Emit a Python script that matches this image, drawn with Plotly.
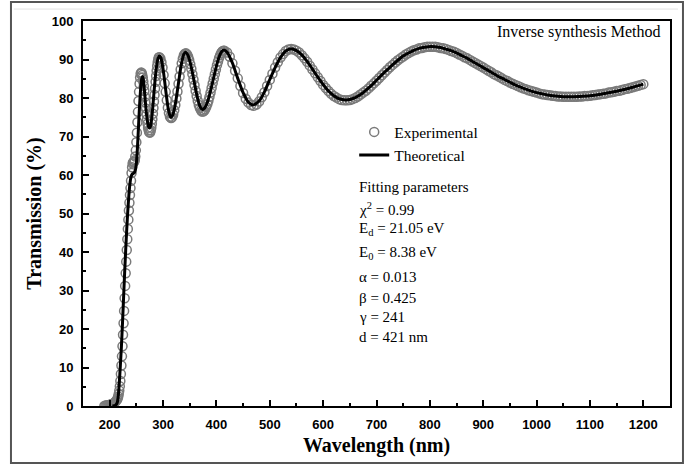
import plotly.graph_objects as go

# ---------------- data ----------------
exp_wavelength = [
    190, 192, 194, 196, 198, 200, 202, 204, 206, 208, 210, 212, 214,
    215, 216, 217, 218, 219, 220, 221, 222, 223, 224, 225, 226, 227, 228, 229,
    230, 231, 232, 233, 234, 235, 236, 237, 238, 239, 240, 241, 242, 243, 244,
    245, 246, 247, 248, 249, 250, 251, 252, 253, 254, 255, 256, 257, 258, 259,
    260, 261, 262, 263, 264, 265, 266, 267, 268, 269, 270, 271, 272, 273, 274,
    275, 276, 277, 278, 279, 280, 281, 282, 283, 284, 285, 286, 287, 288, 289,
    290, 291, 292, 293, 295, 297, 299, 301, 303, 305, 307, 309, 311, 313, 315,
    317, 319, 321, 323, 325, 327, 329, 331, 333, 335, 337, 339, 341, 343, 345,
    347, 349, 351, 353, 355, 357, 359, 361, 363, 365, 367, 369, 371, 373, 375,
    377, 379, 381, 383, 385, 387, 389, 391, 393, 395, 397, 399, 401, 403, 405,
    407, 409, 411, 413,
    415, 420, 425, 430, 435, 440, 445, 450, 455, 460, 465, 470, 475, 480, 485,
    490, 495, 500, 505, 510, 515, 520, 525, 530, 535, 540, 545, 550, 555, 560,
    565, 570, 575, 580, 585, 590, 595, 600, 605, 610, 615, 620, 625, 630, 635,
    640, 645, 650, 655, 660, 665, 670, 675, 680, 685, 690, 695, 700, 705, 710,
    715, 720, 725, 730, 735, 740, 745, 750, 755, 760, 765, 770, 775, 780, 785,
    790, 795, 800, 805, 810, 815, 820, 825, 830, 835, 840, 845, 850, 855, 860,
    865, 870, 875, 880, 885, 890, 895, 900, 905, 910, 915, 920, 925, 930, 935,
    940, 945, 950, 955, 960, 965, 970, 975, 980, 985, 990, 995, 1000, 1005, 1010,
    1015, 1020, 1025, 1030, 1035, 1040, 1045, 1050, 1055, 1060, 1065, 1070, 1075, 1080, 1085,
    1090, 1095, 1100, 1105, 1110, 1115, 1120, 1125, 1130, 1135, 1140, 1145, 1150, 1155, 1160,
    1165, 1170, 1175, 1180, 1185, 1190, 1195, 1200,
]
exp_transmission = [
    0.0, 0.1, 0.1, 0.2, 0.2, 0.3, 0.4, 0.5, 0.6, 0.8, 1.0, 1.3, 1.7,
    2.0, 2.5, 3.1, 4.0, 5.1, 6.5, 8.3, 10.5, 12.9, 15.5, 18.5, 21.5, 24.7, 28.0, 31.2,
    34.5, 37.5, 40.5, 43.3, 46.0, 48.4, 50.8, 52.8, 54.8, 56.6, 58.5, 60.5, 62.0, 63.0, 63.3,
    63.4, 63.5, 63.8, 64.8, 66.4, 68.5, 71.0, 73.7, 76.4, 79.2, 81.6, 83.7, 85.3, 86.3, 86.6,
    86.5, 86.0, 85.3, 84.3, 83.1, 81.8, 80.3, 78.8, 77.3, 75.8, 74.5, 73.3, 72.3, 71.6, 71.2,
    71.0, 71.1, 71.6, 72.3, 73.3, 74.5, 75.9, 77.4, 79.1, 80.8, 82.5, 84.2, 85.7, 87.1, 88.3,
    89.3, 90.0, 90.5, 90.6, 90.3, 89.3, 87.9, 86.0, 83.8, 81.6, 79.4, 77.5, 76.1, 75.1, 74.8,
    75.0, 75.7, 76.8, 78.2, 79.9, 81.7, 83.7, 85.6, 87.4, 89.0, 90.2, 91.1, 91.5, 91.6, 91.3,
    90.7, 89.9, 88.8, 87.6, 86.2, 84.8, 83.3, 81.9, 80.5, 79.3, 78.2, 77.4, 76.8, 76.5, 76.5,
    76.7, 77.1, 77.7, 78.4, 79.3, 80.3, 81.4, 82.6, 83.8, 85.0, 86.2, 87.4, 88.5, 89.5, 90.4,
    91.1, 91.7, 92.1, 92.3,
    92.3, 91.8, 90.7, 89.0, 87.1, 85.1, 83.1, 81.3, 79.8, 78.8, 78.2, 78.0, 78.3, 79.1, 80.2,
    81.5, 83.1, 84.7, 86.3, 87.9, 89.3, 90.5, 91.4, 92.2, 92.6, 92.7, 92.6, 92.3, 91.8, 91.1,
    90.3, 89.4, 88.4, 87.4, 86.4, 85.4, 84.4, 83.4, 82.6, 81.8, 81.1, 80.5, 80.1, 79.7, 79.5,
    79.4, 79.4, 79.5, 79.7, 80.0, 80.4, 80.9, 81.4, 81.9, 82.5, 83.2, 83.8, 84.5, 85.2, 85.9,
    86.6, 87.3, 88.0, 88.6, 89.2, 89.8, 90.3, 90.8, 91.3, 91.7, 92.1, 92.4, 92.6, 92.9, 93.0,
    93.2, 93.3, 93.3, 93.3, 93.3, 93.2, 93.0, 92.9, 92.7, 92.5, 92.2, 92.0, 91.7, 91.3, 91.0,
    90.6, 90.3, 89.9, 89.5, 89.1, 88.7, 88.3, 87.9, 87.5, 87.1, 86.7, 86.2, 85.9, 85.5, 85.1,
    84.7, 84.4, 84.0, 83.7, 83.4, 83.1, 82.8, 82.5, 82.3, 82.0, 81.8, 81.6, 81.4, 81.2, 81.0,
    80.9, 80.8, 80.7, 80.6, 80.5, 80.4, 80.4, 80.3, 80.3, 80.3, 80.3, 80.3, 80.3, 80.4, 80.4,
    80.5, 80.5, 80.6, 80.7, 80.8, 80.9, 81.0, 81.1, 81.2, 81.4, 81.5, 81.6, 81.8, 81.9, 82.1,
    82.3, 82.4, 82.6, 82.8, 83.0, 83.2, 83.4, 83.6,
]

theo_wavelength = [
    205, 210, 214, 216, 218, 220, 222, 224, 226, 228, 230, 232, 234, 236, 238,
    240, 242, 244, 246, 248, 250, 252, 254, 256, 258, 260, 261.5, 263, 265, 267,
    269, 271, 273, 275, 277, 279, 281, 283, 285, 287, 289, 291, 293.5, 296, 298,
    300, 302, 304, 306, 308, 310, 312, 314, 315, 318, 321, 324, 327, 330, 333,
    336, 339, 342, 346, 350, 354, 358, 362, 366, 370, 374, 378, 382, 386, 390,
    394, 398, 402, 406, 410, 414, 420, 430, 440, 450, 460, 469, 480, 490, 500,
    510, 520, 530, 540, 550, 560, 570, 580, 590, 600, 610, 620, 630, 642, 650,
    660, 670, 680, 690, 700, 710, 720, 730, 740, 750, 760, 770, 780, 790, 802,
    810, 820, 830, 840, 850, 860, 870, 880, 890, 900, 910, 920, 930, 940, 950,
    960, 970, 980, 990, 1000, 1010, 1020, 1030, 1040, 1050, 1060, 1080, 1100, 1120, 1140,
    1160, 1180, 1200,
]
theo_transmission = [
    0.0, 0.1, 0.8, 2.5, 6.0, 10.5, 15.5, 21.5, 28.0, 34.5, 40.5, 46.0, 50.8, 54.8, 57.8,
    59.5, 60.2, 60.4, 60.6, 61.2, 63.0, 67.0, 72.5, 78.0, 82.3, 84.9, 85.6, 84.8, 82.2, 78.8,
    75.8, 73.7, 72.5, 72.2, 72.9, 75.0, 78.0, 81.4, 84.6, 87.3, 89.3, 90.5, 90.9, 90.4, 89.2,
    87.6, 85.5, 83.2, 80.9, 78.8, 77.0, 75.8, 75.1, 75.0, 75.5, 77.0, 79.2, 82.0, 84.9, 87.7,
    89.9, 91.4, 91.9, 91.3, 89.7, 87.3, 84.5, 81.6, 79.2, 77.6, 77.0, 77.4, 78.5, 80.2, 82.4,
    84.8, 87.1, 89.3, 91.0, 92.1, 92.5, 91.9, 89.1, 85.1, 81.4, 78.9, 78.2, 79.2, 81.6, 84.8,
    87.9, 90.5, 92.2, 92.8, 92.3, 91.2, 89.5, 87.5, 85.4, 83.5, 81.8, 80.6, 79.8, 79.5, 79.6,
    80.1, 80.9, 82.0, 83.2, 84.6, 86.0, 87.3, 88.6, 89.8, 90.9, 91.7, 92.4, 92.9, 93.2, 93.4,
    93.3, 93.1, 92.7, 92.3, 91.7, 91.0, 90.3, 89.5, 88.7, 87.9, 87.1, 86.3, 85.5, 84.8, 84.1,
    83.4, 82.8, 82.3, 81.8, 81.4, 81.1, 80.8, 80.6, 80.45, 80.35, 80.3, 80.4, 80.6, 81.0, 81.5,
    82.1, 82.8, 83.6,
]

x_ticks = [200, 300, 400, 500, 600, 700, 800, 900, 1000, 1100, 1200]
y_ticks = [0, 10, 20, 30, 40, 50, 60, 70, 80, 90, 100]

fit_lines = [
    "Fitting parameters",
    "χ<sup>2</sup> = 0.99",
    "E<sub>d</sub> = 21.05 eV",
    "E<sub>0</sub> = 8.38 eV",
    "α = 0.013",
    "β = 0.425",
    "γ = 241",
    "d = 421 nm",
]

assert len(exp_wavelength) == len(exp_transmission), (len(exp_wavelength), len(exp_transmission))
assert len(theo_wavelength) == len(theo_transmission), (len(theo_wavelength), len(theo_transmission))

SERIF = "Liberation Serif, Times New Roman, serif"
SANS = "Liberation Sans, Arial, sans-serif"

fig = go.Figure()
fig.add_trace(go.Scatter(
    x=exp_wavelength, y=exp_transmission, mode="markers", name="Experimental",
    marker=dict(symbol="circle-open", size=9, color="#7a7a7a", line=dict(width=1.5)),
))
fig.add_trace(go.Scatter(
    x=theo_wavelength, y=theo_transmission, mode="lines", name="Theoretical",
    line=dict(color="black", width=3, shape="spline", smoothing=0.6),
))

axis_common = dict(
    showline=True, linecolor="black", linewidth=2, mirror=True,
    ticks="inside", ticklen=6, tickwidth=1.5, tickcolor="black",
    showgrid=False, zeroline=False,
    tickfont=dict(family=SANS, size=13, color="black", weight="bold"),
    ticklabelstandoff=5,
)
fig.update_xaxes(
    range=[150, 1250], tickvals=x_ticks,
    minor=dict(ticks="inside", ticklen=3, tickwidth=1.5, tickcolor="black", dtick=50, tick0=150, showgrid=False),
    title=dict(text="Wavelength (nm)", font=dict(family=SERIF, size=20, color="black", weight="bold"), standoff=7),
    **axis_common,
)
fig.update_yaxes(
    range=[0, 100], tickvals=y_ticks,
    minor=dict(ticks="inside", ticklen=3, tickwidth=1.5, tickcolor="black", dtick=5, tick0=0, showgrid=False),
    title=dict(text="Transmission (%)", font=dict(family=SERIF, size=20, color="black", weight="bold"), standoff=5),
    **axis_common,
)

annotations = [dict(
    text="Inverse synthesis Method", xref="paper", yref="paper", x=0.988, y=0.972,
    xanchor="right", yanchor="middle", showarrow=False,
    font=dict(family=SERIF, size=16, color="black"),
)]
fit_y = [0.569, 0.512, 0.460, 0.397, 0.335, 0.281, 0.231, 0.179]
for txt, yy in zip(fit_lines, fit_y):
    annotations.append(dict(
        text=txt, xref="paper", yref="paper", x=0.467, y=yy,
        xanchor="left", yanchor="middle", showarrow=False,
        font=dict(family=SERIF, size=15, color="black"),
    ))

fig.update_layout(
    width=691, height=464,
    margin=dict(l=83, r=21, t=21, b=58),
    paper_bgcolor="white", plot_bgcolor="white",
    showlegend=True,
    legend=dict(
        x=0.462, y=0.755, xanchor="left", yanchor="top",
        bgcolor="rgba(0,0,0,0)", borderwidth=0,
        font=dict(family=SERIF, size=15.5, color="black"),
        tracegroupgap=0, itemwidth=30,
    ),
    annotations=annotations,
    shapes=[
        dict(type="rect", xref="paper", yref="paper", x0=-0.1227, x1=1.0221, y0=-0.148, y1=1.0494,
             line=dict(color="#555555", width=2), layer="below"),
        dict(type="line", xref="paper", yref="paper", x0=-0.118, x1=1.0136, y0=1.031, y1=1.031,
             line=dict(color="#e2e2e2", width=1), layer="below"),
    ],
)

fig.write_html("out.html")
